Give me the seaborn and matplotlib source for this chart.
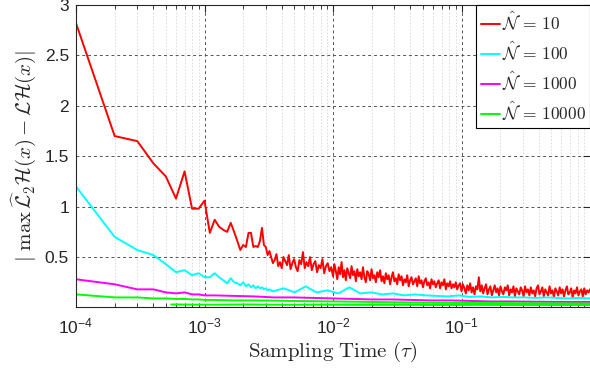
import numpy as np
import pandas as pd
import matplotlib
matplotlib.use("Agg")
import matplotlib.pyplot as plt
from matplotlib.ticker import FixedLocator, FixedFormatter, LogLocator, NullFormatter
import seaborn as sns

# --- data ---
labels = [r'$\hat{\mathcal{N}}\,=\,10$', r'$\hat{\mathcal{N}}\,=\,100$',
          r'$\hat{\mathcal{N}}\,=\,1000$', r'$\hat{\mathcal{N}}\,=\,10000$']
colors = ['#ff0000', '#00ffff', '#ff00ff', '#00ff00']

# sampling grid: 1e-4 steps at the start, then log spaced (dense) samples
tau_fine = np.arange(1, 33) * 1e-4
tau_red_tail = np.r_[np.geomspace(3.3e-3, 1e-2, 35, endpoint=False),
                     np.geomspace(1e-2, 1e-1, 90, endpoint=False),
                     np.geomspace(1e-1, 1.0, 90)]
tau_cyan_tail = np.geomspace(3.4e-3, 1.0, 30)
tau_coarse = np.arange(1, 11) * 1e-4
tau_coarse_tail = np.geomspace(1.2e-3, 1.0, 20)
tau_floor = np.geomspace(5.5e-4, 1.0, 12)

red_head = [2.82, 1.70, 1.65, 1.43, 1.30, 1.08, 1.35, 0.98, 0.98, 1.06,
            0.74, 0.87, 0.80, 0.77, 0.75, 0.84, 0.75, 0.66, 0.57, 0.62,
            0.60, 0.74, 0.74, 0.60, 0.61, 0.60, 0.66, 0.79, 0.62, 0.60,
            0.52, 0.56]
red_tail = [0.50, 0.44, 0.47, 0.53, 0.41, 0.45, 0.39, 0.50, 0.46, 0.42,
            0.52, 0.38, 0.44, 0.48, 0.40, 0.36, 0.47, 0.43, 0.55, 0.39,
            0.45, 0.41, 0.50, 0.37, 0.43, 0.46, 0.35, 0.42, 0.39, 0.48,
            0.34, 0.41, 0.44, 0.36, 0.40,
            0.31, 0.43, 0.36, 0.28, 0.40, 0.33, 0.45, 0.30, 0.37, 0.27,
            0.39, 0.34, 0.29, 0.41, 0.32, 0.36, 0.26, 0.38, 0.31, 0.35,
            0.28, 0.40, 0.30, 0.25, 0.36, 0.33, 0.27, 0.38, 0.29, 0.32,
            0.25, 0.35, 0.30, 0.37, 0.26, 0.31, 0.24, 0.34, 0.28, 0.32,
            0.23, 0.30, 0.35, 0.26, 0.29, 0.23, 0.33, 0.27, 0.31, 0.22,
            0.28, 0.25, 0.32, 0.21, 0.27, 0.30, 0.23, 0.26, 0.29, 0.21,
            0.31, 0.24, 0.27, 0.20, 0.26, 0.29, 0.22, 0.25, 0.19, 0.28,
            0.23, 0.26, 0.20, 0.24, 0.27, 0.19, 0.25, 0.22, 0.28, 0.18,
            0.24, 0.21, 0.26, 0.19, 0.23, 0.20, 0.25, 0.18, 0.22, 0.24,
            0.16, 0.23, 0.19, 0.14, 0.22, 0.17, 0.24, 0.15, 0.20, 0.13,
            0.21, 0.18, 0.30, 0.16, 0.22, 0.14, 0.19, 0.23, 0.13, 0.18,
            0.21, 0.12, 0.17, 0.22, 0.15, 0.19, 0.12, 0.21, 0.16, 0.13,
            0.20, 0.17, 0.22, 0.12, 0.18, 0.15, 0.21, 0.11, 0.19, 0.16,
            0.13, 0.20, 0.17, 0.11, 0.21, 0.15, 0.18, 0.12, 0.20, 0.14,
            0.17, 0.11, 0.19, 0.22, 0.13, 0.16, 0.20, 0.11, 0.18, 0.15,
            0.12, 0.21, 0.14, 0.17, 0.10, 0.19, 0.16, 0.12, 0.20, 0.14,
            0.18, 0.11, 0.17, 0.21, 0.13, 0.15, 0.19, 0.10, 0.17, 0.14,
            0.20, 0.12, 0.16, 0.18, 0.11, 0.19, 0.13, 0.17, 0.15, 0.18]
cyan_head = [1.20, 0.70, 0.57, 0.52, 0.43, 0.35, 0.37, 0.32, 0.34, 0.30,
             0.30, 0.34, 0.30, 0.27, 0.24, 0.29, 0.25, 0.24, 0.22, 0.25,
             0.21, 0.23, 0.20, 0.22, 0.19, 0.21, 0.19, 0.20, 0.18, 0.19,
             0.17, 0.18]
cyan_tail = [0.16, 0.19, 0.15, 0.21, 0.15, 0.17, 0.14, 0.20, 0.14, 0.15,
             0.13, 0.14, 0.12, 0.13, 0.12, 0.115, 0.11, 0.12, 0.105, 0.11,
             0.10, 0.105, 0.10, 0.10, 0.095, 0.10, 0.095, 0.09, 0.095, 0.09]
mag_head = [0.28, 0.23, 0.18, 0.18, 0.15, 0.14, 0.15, 0.13, 0.13, 0.12]
mag_tail = [0.12, 0.115, 0.11, 0.10, 0.10, 0.095, 0.09, 0.085, 0.08, 0.08,
            0.075, 0.07, 0.07, 0.065, 0.06, 0.06, 0.058, 0.056, 0.055, 0.055]
green_head = [0.13, 0.10, 0.10, 0.09, 0.09, 0.085, 0.085, 0.08, 0.08, 0.075]
green_tail = [0.075, 0.07, 0.07, 0.068, 0.065, 0.062, 0.06, 0.058, 0.055, 0.052,
              0.05, 0.048, 0.046, 0.045, 0.044, 0.043, 0.042, 0.042, 0.041, 0.04]
green_floor = [0.03, 0.028, 0.03, 0.027, 0.028, 0.026, 0.027, 0.025, 0.026,
               0.025, 0.025, 0.025]

series = [
    (labels[0], np.r_[tau_fine, tau_red_tail], red_head + red_tail),
    (labels[1], np.r_[tau_fine, tau_cyan_tail], cyan_head + cyan_tail),
    (labels[2], np.r_[tau_coarse, tau_coarse_tail], mag_head + mag_tail),
    (labels[3], np.r_[tau_coarse, tau_coarse_tail], green_head + green_tail),
]
df = pd.concat([pd.DataFrame({'tau': t, 'err': e, 'N': lab}) for lab, t, e in series],
               ignore_index=True)
df_floor = pd.DataFrame({'tau': tau_floor, 'err': green_floor})

# --- style ---
sns.set_style("white")
plt.rcParams['font.family'] = ['Liberation Sans', 'DejaVu Sans']
plt.rcParams['mathtext.fontset'] = 'cm'

fig = plt.figure(figsize=(5.9, 3.74), dpi=100)
ax = fig.add_axes([76 / 590, 1 - 307 / 374, 514 / 590, 302 / 374])

sns.lineplot(data=df_floor, x='tau', y='err', color=colors[3], lw=1.4,
             estimator=None, legend=False, ax=ax)
sns.lineplot(data=df, x='tau', y='err', hue='N', hue_order=labels,
             palette=colors, lw=1.4, estimator=None, sort=True, ax=ax)

ax.set_xscale('log')
ax.set_xlim(1e-4, 1.0)
ax.set_ylim(0.005, 3)

ax.xaxis.set_major_locator(FixedLocator([1e-4, 1e-3, 1e-2, 1e-1]))
ax.xaxis.set_major_formatter(FixedFormatter([r'$\mathregular{10^{-4}}$', r'$\mathregular{10^{-3}}$',
                                             r'$\mathregular{10^{-2}}$', r'$\mathregular{10^{-1}}$']))
ax.xaxis.set_minor_locator(LogLocator(base=10, subs=np.arange(2, 10), numticks=20))
ax.xaxis.set_minor_formatter(NullFormatter())
yt = [0.5, 1, 1.5, 2, 2.5, 3]
ax.yaxis.set_major_locator(FixedLocator(yt))
ax.yaxis.set_major_formatter(FixedFormatter(['0.5', '1', '1.5', '2', '2.5', '3']))

ax.tick_params(which='major', direction='in', length=5, width=0.8, top=True, right=True,
               labelsize=12.5, colors='#262626', pad=7)
ax.tick_params(which='minor', direction='in', length=3, width=0.6, top=True, bottom=True)
ax.tick_params(axis='y', which='major', pad=5)

ax.grid(True, which='major', color='#555555', linestyle=(0, (3, 3)), linewidth=0.7)
ax.grid(True, which='minor', axis='x', color='#d8d8d8', linestyle=(0, (2, 2)), linewidth=0.6)
for side in ['left', 'bottom', 'top']:
    ax.spines[side].set_color('#262626')
    ax.spines[side].set_linewidth(0.8)
ax.spines['right'].set_visible(False)

ax.set_xlabel(r'$\mathrm{Sampling\ Time\ }(\tau)$', fontsize=15, labelpad=2)
ax.set_ylabel(r'$|\ \max\,\widehat{\mathcal{L}}_2\mathcal{H}(x)-\mathcal{L}\mathcal{H}(x)|$',
              fontsize=15, labelpad=5)

leg = ax.legend(loc='upper right', fontsize=12.5, frameon=True, fancybox=False,
                handlelength=1.1, handletextpad=0.1, labelspacing=0.35,
                borderpad=0.25, borderaxespad=0.0, framealpha=1)
leg.get_frame().set_edgecolor('black')
leg.get_frame().set_linewidth(0.8)

fig.savefig('out.png', dpi=100)
